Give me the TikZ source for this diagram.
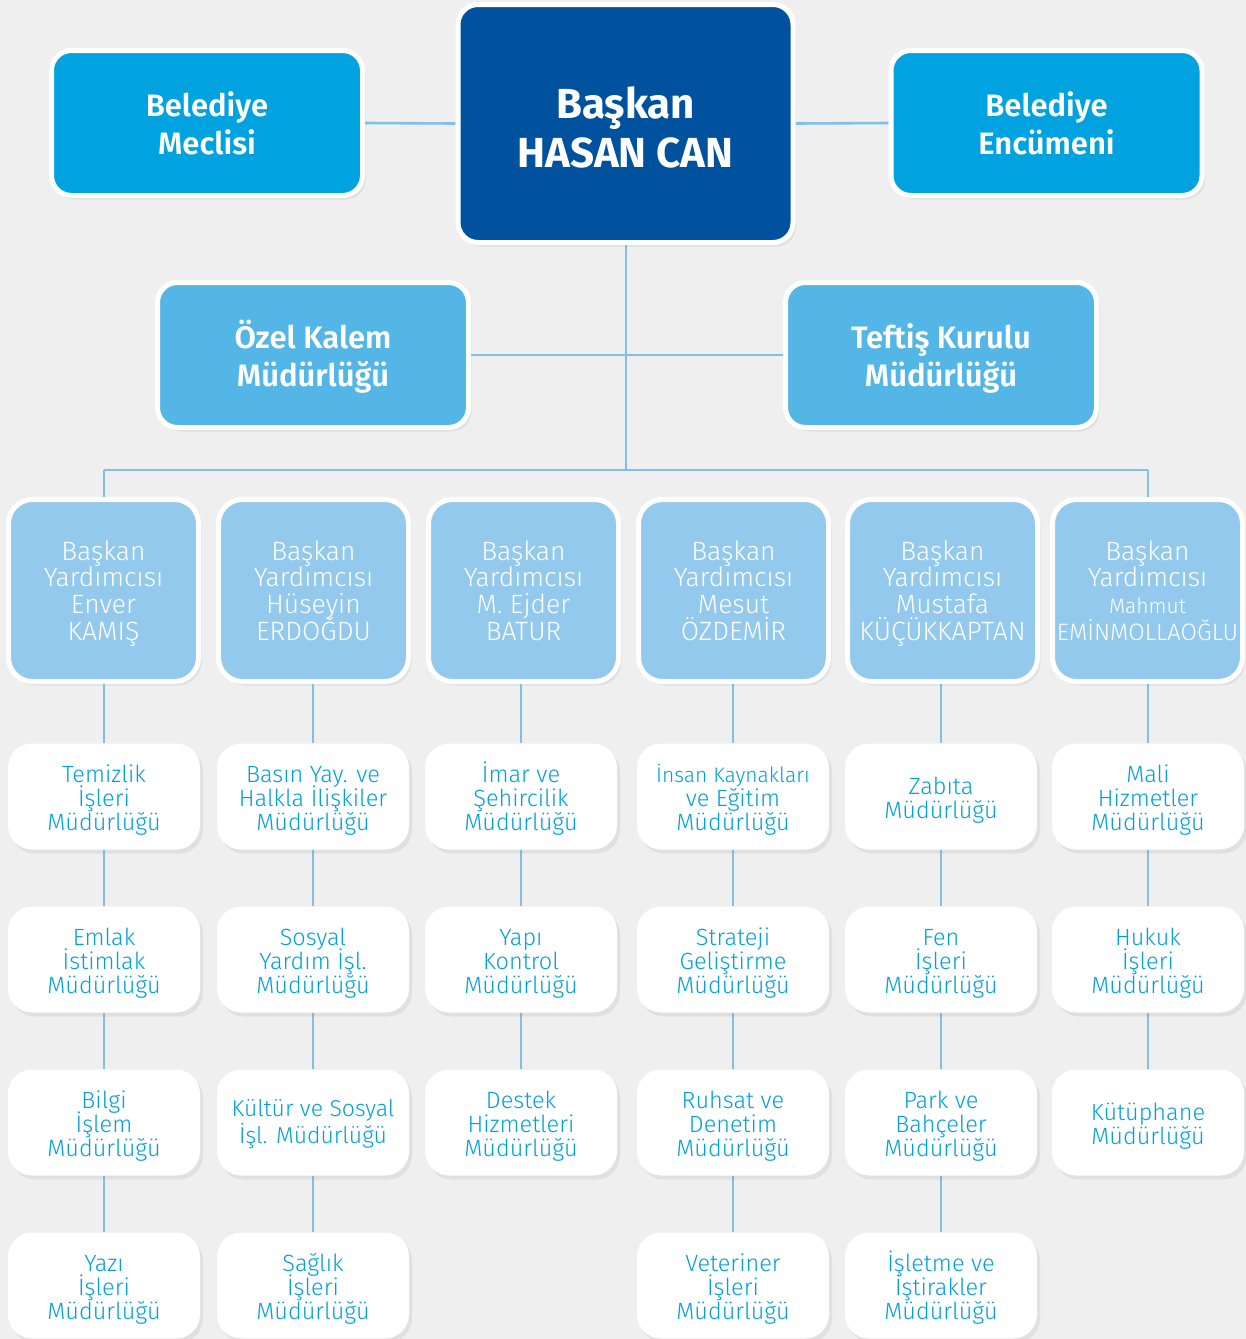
\documentclass[tikz,border=0pt]{standalone}
\usepackage{fontspec}
\setmainfont{Fira Sans}
\newfontfamily\flight{Fira Sans Light}
\newfontfamily\fsemi{Fira Sans SemiBold}
\usetikzlibrary{shadows}
\definecolor{bgc}{HTML}{EFEFEF}
\definecolor{navy}{HTML}{00529E}
\definecolor{cyanb}{HTML}{00A3E0}
\definecolor{midb}{HTML}{54B5E7}
\definecolor{paleb}{HTML}{93C9EC}
\definecolor{linec}{HTML}{7FBFE8}
\definecolor{txtb}{HTML}{00A0DF}
\pgfdeclarelayer{background}
\pgfsetlayers{background,main}
% #1 = raise of first baseline above node centre, #2 = lines separated by \\
\newcommand\tbx[2]{\raisebox{#1}[0pt][0pt]{\vtop{\let\\\cr\lineskiplimit=-100pt\lineskip=0pt\halign{\hfil##\hfil\cr#2\crcr}}}}
\tikzset{
  shad/.style={drop shadow={opacity=0.13,shadow xshift=3pt,shadow yshift=-4pt}},
  bigbox/.style={shad, draw=white, line width=5pt, rounded corners=20pt,
    text=white, inner sep=0pt},
  topbox/.style={bigbox, fill=cyanb, minimum width=311pt, minimum height=145pt,
    font=\fsemi\fontsize{31}{37.5}\selectfont},
  chiefbox/.style={bigbox, fill=navy, minimum width=335pt, minimum height=238pt,
    font=\bfseries\fontsize{42}{49}\selectfont},
  midbox/.style={bigbox, fill=midb, minimum width=311pt, minimum height=145pt,
    font=\fsemi\fontsize{31}{37.5}\selectfont},
  vpbox/.style={bigbox, fill=paleb, rounded corners=24pt, minimum width=190pt, minimum height=182pt,
    font=\flight\fontsize{26.5}{26.7}\selectfont},
  unitbox/.style={shad, fill=white, rounded corners=24pt, minimum width=192pt, minimum height=106pt,
    text=txtb, inner sep=0pt, font=\flight\fontsize{23.5}{24}\selectfont},
  conn/.style={draw=linec, line width=2.6pt}
}
\newcommand\tx[1]{\tbx{6.3pt}{#1}}
\newcommand\cx[1]{\tbx{5.5pt}{#1}}
\newcommand\vx[1]{\tbx{30.5pt}{#1}}
\newcommand\ux[1]{\tbx{13.8pt}{#1}}
\newcommand\uy[1]{\tbx{1.8pt}{#1}}
\begin{document}
\begin{tikzpicture}[x=1pt,y=-1pt]
\begin{pgfonlayer}{background}
\fill[bgc] (0,0) rectangle (1246,1339);
\end{pgfonlayer}
\useasboundingbox (0,0) rectangle (1246,1339);

% top row
\node[topbox] (mec) at (207,123) {\tx{Belediye\\Meclisi}};
\node[chiefbox] (bas) at (625.5,123.5) {\cx{Başkan\\HASAN CAN}};
\node[topbox] (enc) at (1046.5,123) {\tx{Belediye\\Encümeni}};
% second row
\node[midbox] (ozel) at (313,355) {\tx{Özel Kalem\\Müdürlüğü}};
\node[midbox] (teft) at (941,355) {\tx{Teftiş Kurulu\\Müdürlüğü}};
% vice mayors
\node[vpbox] (vp1) at (103.5,590.5) {\vx{Başkan\\Yardımcısı\\Enver\\KAMIŞ}};
\node[vpbox] (vp2) at (313.5,590.5) {\vx{Başkan\\Yardımcısı\\Hüseyin\\ERDOĞDU}};
\node[vpbox] (vp3) at (523.5,590.5) {\vx{Başkan\\Yardımcısı\\M. Ejder\\BATUR}};
\node[vpbox] (vp4) at (733.5,590.5) {\vx{Başkan\\Yardımcısı\\Mesut\\ÖZDEMİR}};
\node[vpbox] (vp5) at (942.5,590.5) {\vx{Başkan\\Yardımcısı\\Mustafa\\KÜÇÜKKAPTAN}};
\node[vpbox] (vp6) at (1147.5,590.5) {\vx{Başkan\\Yardımcısı\\{\fontsize{21}{26.7}\selectfont Mahmut}\\{\fontsize{23.8}{26.7}\selectfont EMİNMOLLAOĞLU}}};

% units
\node[unitbox] (a1) at (104,796.5) {\ux{Temizlik\\İşleri\\Müdürlüğü}};
\node[unitbox] (a2) at (104,959.5) {\ux{Emlak\\İstimlak\\Müdürlüğü}};
\node[unitbox] (a3) at (104,1122.5) {\ux{Bilgi\\İşlem\\Müdürlüğü}};
\node[unitbox] (a4) at (104,1285.5) {\ux{Yazı\\İşleri\\Müdürlüğü}};

\node[unitbox] (b1) at (313,796.5) {\ux{Basın Yay. ve\\Halkla İlişkiler\\Müdürlüğü}};
\node[unitbox] (b2) at (313,959.5) {\ux{Sosyal\\Yardım İşl.\\Müdürlüğü}};
\node[unitbox] (b3) at (313,1122.5) {\fontsize{23}{26.7}\selectfont\tbx{6.2pt}{Kültür ve Sosyal\\İşl. Müdürlüğü}};
\node[unitbox] (b4) at (313,1285.5) {\ux{Sağlık\\İşleri\\Müdürlüğü}};

\node[unitbox] (c1) at (521,796.5) {\ux{İmar ve\\Şehircilik\\Müdürlüğü}};
\node[unitbox] (c2) at (521,959.5) {\ux{Yapı\\Kontrol\\Müdürlüğü}};
\node[unitbox] (c3) at (521,1122.5) {\ux{Destek\\Hizmetleri\\Müdürlüğü}};

\node[unitbox] (d1) at (733,796.5) {\ux{{\fontsize{21}{24}\selectfont İnsan Kaynakları}\\ve Eğitim\\Müdürlüğü}};
\node[unitbox] (d2) at (733,959.5) {\ux{Strateji\\Geliştirme\\Müdürlüğü}};
\node[unitbox] (d3) at (733,1122.5) {\ux{Ruhsat ve\\Denetim\\Müdürlüğü}};
\node[unitbox] (d4) at (733,1285.5) {\ux{Veteriner\\İşleri\\Müdürlüğü}};

\node[unitbox] (e1) at (941,796.5) {\uy{Zabıta\\Müdürlüğü}};
\node[unitbox] (e2) at (941,959.5) {\ux{Fen\\İşleri\\Müdürlüğü}};
\node[unitbox] (e3) at (941,1122.5) {\ux{Park ve\\Bahçeler\\Müdürlüğü}};
\node[unitbox] (e4) at (941,1285.5) {\ux{İşletme ve\\İştirakler\\Müdürlüğü}};

\node[unitbox] (f1) at (1148,796.5) {\ux{Mali\\Hizmetler\\Müdürlüğü}};
\node[unitbox] (f2) at (1148,959.5) {\ux{Hukuk\\İşleri\\Müdürlüğü}};
\node[unitbox] (f3) at (1148,1122.5) {\uy{Kütüphane\\Müdürlüğü}};

\coordinate (bus) at (626,470);

\begin{pgfonlayer}{background}
% top connectors
\draw[conn] (mec.east) -- (bas.west);
\draw[conn] (bas.east) -- (enc.west);
\draw[conn] (ozel.east) -- (teft.west);
\draw[conn] (bas.south -| bus) -- (bus);
% bus
\draw[conn] (bus -| a1.north) -- (bus -| f1.north);
\draw[conn] (bus -| a1.north) -- (vp1.north -| a1.north);
\draw[conn] (bus -| f1.north) -- (vp6.north -| f1.north);
% columns
\draw[conn] (vp1.south -| a1.north) -- (a1.north) (a1.south) -- (a2.north) (a2.south) -- (a3.north) (a3.south) -- (a4.north);
\draw[conn] (vp2.south -| b1.north) -- (b1.north) (b1.south) -- (b2.north) (b2.south) -- (b3.north) (b3.south) -- (b4.north);
\draw[conn] (vp3.south -| c1.north) -- (c1.north) (c1.south) -- (c2.north) (c2.south) -- (c3.north);
\draw[conn] (vp4.south -| d1.north) -- (d1.north) (d1.south) -- (d2.north) (d2.south) -- (d3.north) (d3.south) -- (d4.north);
\draw[conn] (vp5.south -| e1.north) -- (e1.north) (e1.south) -- (e2.north) (e2.south) -- (e3.north) (e3.south) -- (e4.north);
\draw[conn] (vp6.south -| f1.north) -- (f1.north) (f1.south) -- (f2.north) (f2.south) -- (f3.north);
\end{pgfonlayer}
\end{tikzpicture}
\end{document}
